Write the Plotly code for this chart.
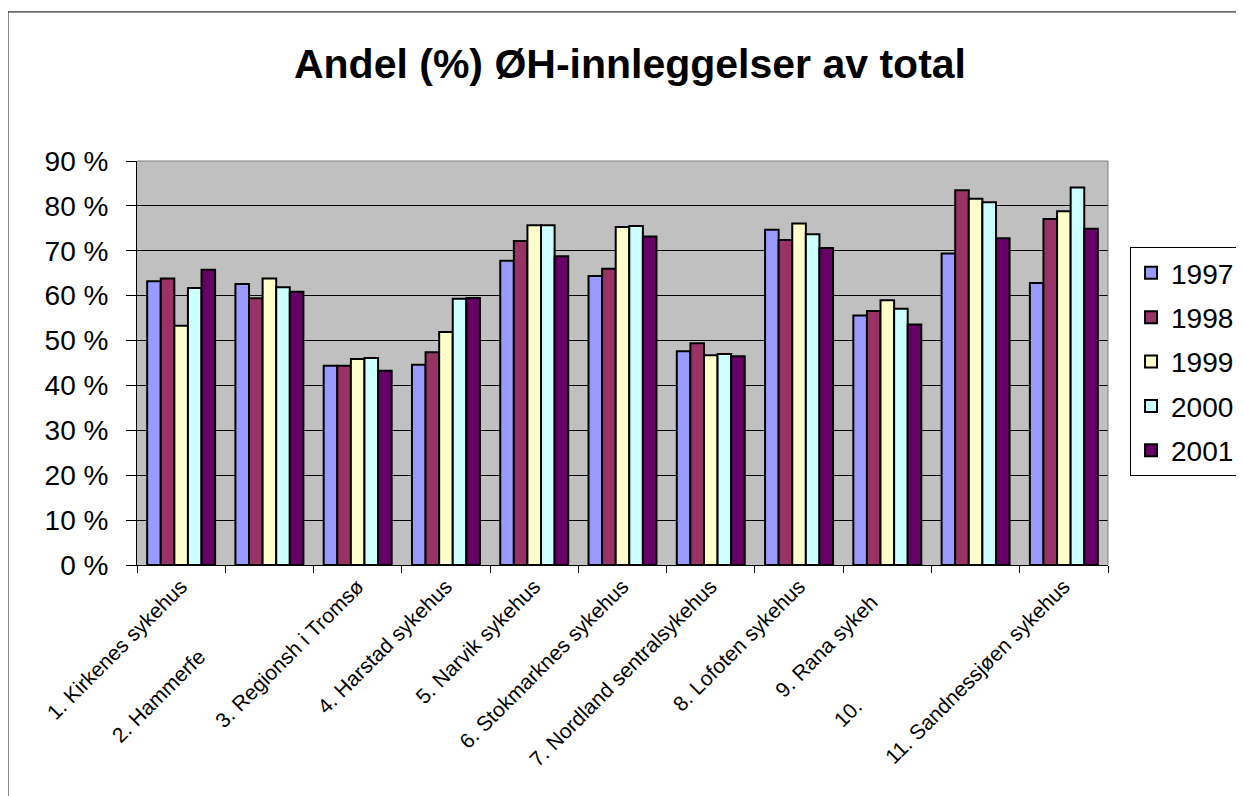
import plotly.graph_objects as go

# sykehus (synlig del av etiketten) + resten som er skjult i originalen
sykehus = ["1. Kirkenes sykehus", "2. Hammerfe", "3. Regionsh i Tromsø", "4. Harstad sykehus",
           "5. Narvik sykehus", "6. Stokmarknes sykehus", "7. Nordland sentralsykehus",
           "8. Lofoten sykehus", "9. Rana sykeh", "10. ", "11. Sandnessjøen sykehus"]
skjult = ["", "st sykehus", "", "", "", "", "", "", "us", "Mosjøen sykehus", ""]

aar = ["1997", "1998", "1999", "2000", "2001"]
farger = ["#9999FF", "#993366", "#FFFFCC", "#CCFFFF", "#660066"]

a1997 = [63.2, 62.6, 44.4, 44.6, 67.8, 64.4, 47.6, 74.7, 55.6, 69.4, 62.8]
a1998 = [63.8, 59.4, 44.4, 47.4, 72.2, 66.0, 49.4, 72.4, 56.6, 83.5, 77.1]
a1999 = [53.3, 63.8, 45.9, 51.9, 75.7, 75.3, 46.7, 76.1, 59.0, 81.6, 78.8]
a2000 = [61.7, 61.9, 46.1, 59.3, 75.7, 75.5, 47.0, 73.7, 57.1, 80.8, 84.1]
a2001 = [65.8, 60.9, 43.3, 59.5, 68.8, 73.2, 46.5, 70.6, 53.6, 72.8, 74.9]

y_ticks = [0, 10, 20, 30, 40, 50, 60, 70, 80, 90]
y_tekst = [f"{v} %" for v in y_ticks]

FONT = "Liberation Sans, Arial, sans-serif"

fig = go.Figure()
for i, verdier in enumerate([a1997, a1998, a1999, a2000, a2001]):
    fig.add_trace(go.Bar(x=sykehus, y=verdier, name=aar[i], legendgroup=aar[i],
                         marker=dict(color=farger[i], line=dict(color="black", width=2))))

# etiketter: den avkuttede delen ligger der som usynlig tekst
tick_tekst = [s + ("<span style='color:rgba(0,0,0,0)'>" + h + "</span>" if h else "")
              for s, h in zip(sykehus, skjult)]

# siden har 8 px marg (body), derfor er marginene trukket 8 px inn
fig.update_layout(
    width=1244, height=796,
    margin=dict(l=129, r=144, t=153, b=239),
    paper_bgcolor="white", plot_bgcolor="#C0C0C0",
    font=dict(family=FONT, color="black"),
    barmode="group", bargap=0.23, bargroupgap=0,
    title=dict(text="<b>Andel (%) ØH-innleggelser av total</b>", x=0.5, xanchor="center",
               xref="container", y=0.93, yanchor="middle", yref="container",
               font=dict(family=FONT, size=41, color="black")),
    legend=dict(x=1.0227, xanchor="left", y=0.787, yanchor="top",
                bordercolor="black", borderwidth=1, bgcolor="white",
                font=dict(family=FONT, size=28), traceorder="grouped", tracegroupgap=5),
    showlegend=True,
)

fig.update_xaxes(tickvals=sykehus, ticktext=tick_tekst, tickangle=-45, automargin=False,
                 tickfont=dict(family=FONT, size=21), ticks="outside", tickson="boundaries",
                 ticklen=7, tickcolor="black", showline=True, linecolor="black", linewidth=1,
                 showgrid=False)
fig.update_yaxes(range=[0, 90], tickvals=y_ticks, ticktext=y_tekst, ticks="outside", ticklen=10,
                 ticklabelstandoff=12, automargin=False, tickcolor="black",
                 tickfont=dict(family=FONT, size=28),
                 showline=True, linecolor="black", linewidth=1, showgrid=True,
                 gridcolor="black", gridwidth=1, zeroline=False)

# grå kant øverst og til høyre i plottområdet
fig.add_shape(type="line", xref="paper", yref="paper", x0=0, x1=1, y0=1, y1=1,
              line=dict(color="#808080", width=1))
fig.add_shape(type="line", xref="paper", yref="paper", x0=1, x1=1, y0=0, y1=1,
              line=dict(color="#808080", width=1))
# ytre ramme rundt diagrammet
fig.add_shape(type="rect", xref="paper", yref="paper", x0=-0.1329, x1=1.2, y0=-0.6, y1=1.369,
              line=dict(color="black", width=1), fillcolor="rgba(0,0,0,0)")

fig.write_html("out.html")
